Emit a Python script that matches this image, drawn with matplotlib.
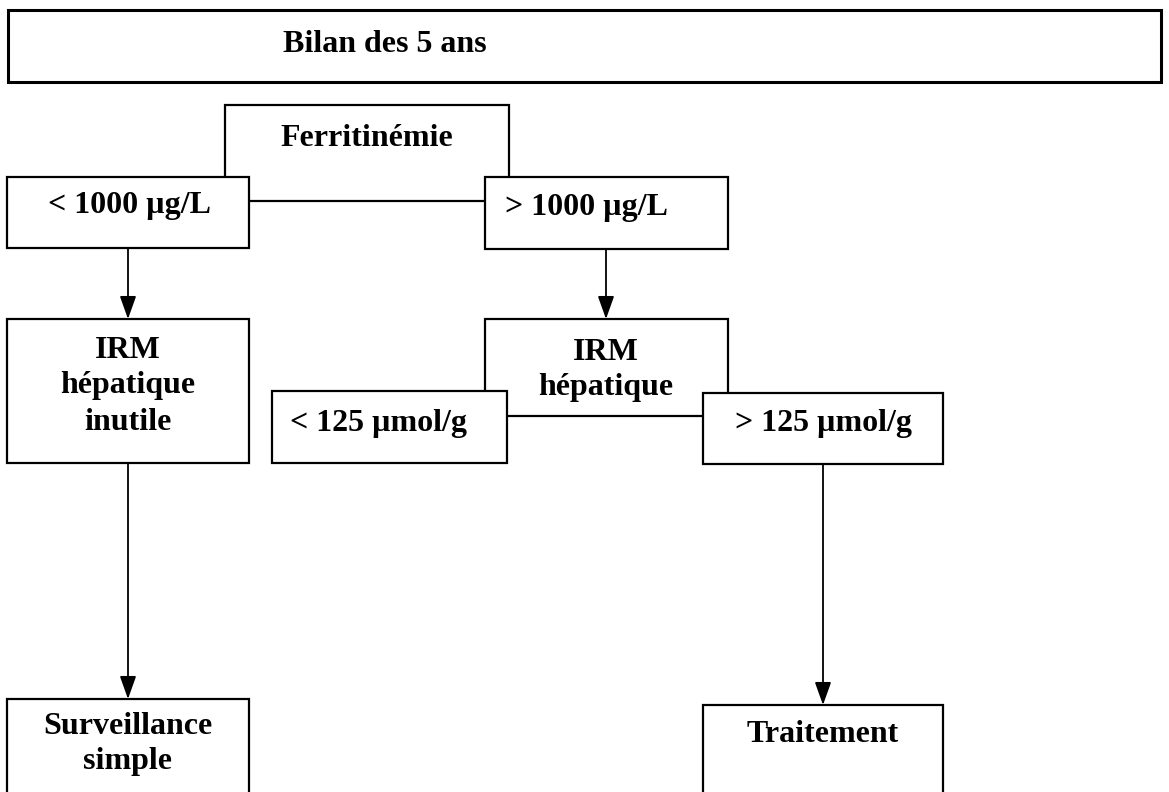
import matplotlib
matplotlib.use('Agg')
from matplotlib import pyplot as plt
from matplotlib.patches import Rectangle

# texts of the flowchart
title = 'Bilan des 5 ans'
ferritin_label = 'Ferritinémie'
ferritin_low = '< 1000 µg/L'
ferritin_high = '> 1000 µg/L'
irm_useless = ['IRM', 'hépatique', 'inutile']
irm_label = ['IRM', 'hépatique']
irm_low = '< 125 µmol/g'
irm_high = '> 125 µmol/g'
outcome_low = ['Surveillance', 'simple']
outcome_high = ['Traitement']

W, H = 1169, 792
fig = plt.figure(figsize=(W / 100, H / 100), dpi=100)
ax = fig.add_axes([0, 0, 1, 1])
ax.set_xlim(0, W)
ax.set_ylim(H, 0)
ax.axis('off')

font = dict(family='Liberation Serif', fontweight='bold', color='black')
FS = 23


def box(x0, y0, x1, y1, lw=1.6, z=2):
    ax.add_patch(Rectangle((x0, y0), x1 - x0, y1 - y0, facecolor='white',
                           edgecolor='black', linewidth=lw, zorder=z))


def lines(texts, cx, y0, step=36, ha='center'):
    for i, t in enumerate(texts):
        ax.text(cx, y0 + i * step, t, ha=ha, va='center', fontsize=FS,
                zorder=5, **font)


def arrow(x, y0, y1):
    ax.annotate('', xy=(x, y1), xytext=(x, y0), zorder=4,
                arrowprops=dict(arrowstyle='-|>,head_length=1.4,head_width=0.5',
                                color='black', lw=1.3, shrinkA=0, shrinkB=0))


# header
box(8, 10, 1161, 82, lw=2.2)
lines([title], 283, 44, ha='left')

# ferritin step: parent box sits behind its two branches
box(225, 105, 509, 201, z=1)
lines([ferritin_label], 367, 139)
box(7, 177, 249, 248)
lines([ferritin_low], 48, 206, ha='left')
box(485, 177, 728, 249)
lines([ferritin_high], 505, 207, ha='left')

arrow(128, 248, 319)
arrow(606, 249, 319)

# left column
box(7, 319, 249, 463)
lines(irm_useless, 128, 350)

# MRI step
box(485, 319, 728, 416, z=1)
lines(irm_label, 606, 352)
box(272, 391, 507, 463)
lines([irm_low], 290, 424, ha='left')
box(703, 393, 943, 464)
lines([irm_high], 735, 424, ha='left')

arrow(128, 463, 699)
arrow(823, 464, 705)

# outcomes (cut off by the page edge)
box(7, 699, 249, 800)
lines(outcome_low, 128, 727, step=35)
box(703, 705, 943, 800)
lines(outcome_high, 823, 734)

fig.savefig('out.png', dpi=100)
